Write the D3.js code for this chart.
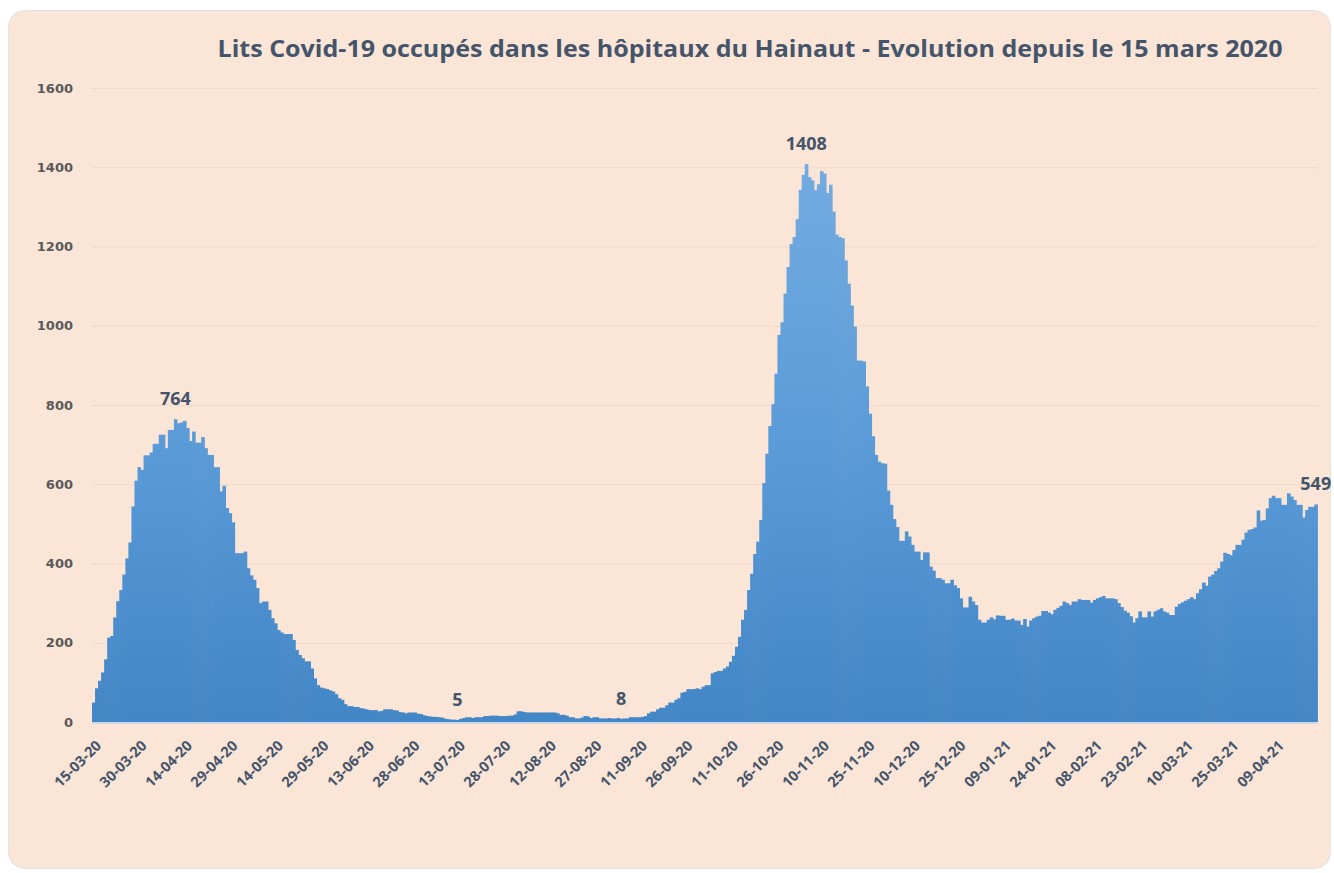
<!DOCTYPE html>
<html>
<head>
<meta charset="utf-8">
<script src="https://cdn.jsdelivr.net/npm/d3@7"></script>
<style>
  body { margin: 0; background: #ffffff; }
  #chart text { font-family: "Open Sans", sans-serif; }
</style>
</head>
<body>
<div id="chart"></div>
<script>
// lits occupés par jour, depuis le 15-03-20 (une valeur par jour)
var lits = [
  49, 85, 104, 125, 158, 213, 217, 264, 305, 333,
  372, 413, 453, 544, 609, 643, 636, 673, 673, 680,
  702, 702, 725, 725, 691, 737, 737, 764, 754, 756,
  760, 742, 709, 733, 705, 705, 719, 691, 674, 674,
  643, 643, 582, 596, 540, 527, 504, 426, 426, 426,
  430, 388, 370, 359, 338, 300, 304, 304, 283, 262,
  249, 232, 226, 222, 222, 222, 207, 182, 169, 161,
  153, 153, 135, 110, 93, 87, 85, 83, 80, 77,
  70, 60, 56, 45, 40, 40, 38, 38, 35, 34,
  32, 30, 30, 30, 27, 28, 32, 32, 32, 30,
  29, 25, 24, 22, 24, 24, 24, 21, 20, 17,
  15, 14, 13, 13, 12, 11, 8, 7, 6, 6,
  5, 8, 10, 12, 12, 10, 12, 12, 12, 15,
  15, 16, 16, 16, 15, 15, 15, 16, 16, 19,
  27, 27, 25, 24, 24, 24, 24, 24, 24, 24,
  24, 24, 24, 22, 18, 18, 16, 12, 12, 9,
  9, 11, 15, 14, 10, 12, 12, 9, 9, 9,
  10, 9, 9, 10, 8, 9, 9, 12, 12, 12,
  12, 13, 15, 22, 26, 26, 32, 36, 36, 42,
  49, 49, 56, 60, 74, 76, 83, 83, 83, 85,
  83, 89, 93, 93, 123, 126, 129, 129, 135, 140,
  152, 167, 190, 215, 258, 283, 333, 374, 424, 455,
  510, 603, 677, 747, 802, 879, 977, 1009, 1081, 1148,
  1206, 1224, 1269, 1343, 1381, 1408, 1375, 1367, 1342, 1357,
  1390, 1384, 1335, 1356, 1288, 1230, 1224, 1221, 1165, 1106,
  1051, 998, 912, 912, 910, 847, 778, 721, 674, 657,
  653, 652, 584, 548, 512, 492, 457, 457, 481, 468,
  447, 430, 430, 409, 428, 428, 392, 382, 363, 363,
  359, 350, 350, 359, 345, 338, 312, 289, 289, 316,
  304, 295, 258, 251, 251, 258, 264, 259, 269, 268,
  268, 258, 258, 261, 256, 256, 245, 260, 241, 256,
  262, 266, 268, 280, 280, 276, 272, 283, 288, 293,
  304, 300, 295, 304, 304, 310, 308, 308, 308, 301,
  308, 312, 315, 318, 312, 312, 312, 310, 300, 290,
  281, 276, 267, 251, 262, 279, 264, 264, 279, 266,
  279, 283, 287, 279, 276, 270, 270, 291, 298, 302,
  306, 310, 315, 310, 325, 335, 352, 344, 367, 372,
  381, 388, 405, 427, 424, 421, 434, 447, 447, 460,
  478, 485, 487, 491, 534, 508, 510, 539, 565, 571,
  565, 565, 548, 548, 577, 569, 560, 548, 548, 516,
  535, 543, 543, 549
];

// étiquettes de l'axe X (une tous les 15 jours)
var tickLabels = ["15-03-20","30-03-20","14-04-20","29-04-20","14-05-20","29-05-20",
  "13-06-20","28-06-20","13-07-20","28-07-20","12-08-20","27-08-20","11-09-20",
  "26-09-20","11-10-20","26-10-20","10-11-20","25-11-20","10-12-20","25-12-20",
  "09-01-21","24-01-21","08-02-21","23-02-21","10-03-21","25-03-21","09-04-21"];
var tickStep = 15;

var yTicks = [0, 200, 400, 600, 800, 1000, 1200, 1400, 1600];

// jours qui portent une étiquette de valeur
var annotes = [27, 120, 174, 235, 403];

var titre = "Lits Covid-19 occupés dans les hôpitaux du Hainaut - Evolution depuis le 15 mars 2020";

var width = 1334, height = 873;
var plot = {left: 92, right: 1317.3, top: 88, bottom: 722};

var svg = d3.select("#chart")
	.append("svg")
	.attr("width", width)
	.attr("height", height);

// gradient pour les barres
var defs = svg.append("defs");
var grad = defs.append("linearGradient")
	.attr("id", "barGrad")
	.attr("gradientUnits", "userSpaceOnUse")
	.attr("x1", 0).attr("y1", plot.top)
	.attr("x2", 0).attr("y2", plot.bottom);
grad.append("stop").attr("offset", "0%").attr("stop-color", "#7ab0e3");
grad.append("stop").attr("offset", "55%").attr("stop-color", "#5b9bd8");
grad.append("stop").attr("offset", "100%").attr("stop-color", "#4286c6");

// fond du graphique
svg.append("rect")
	.attr("x", 8.5).attr("y", 10.5)
	.attr("width", 1322).attr("height", 858)
	.attr("rx", 16)
	.attr("fill", "#fbe5d6")
	.attr("stroke", "#e3e3e3");

svg.append("text")
	.attr("x", 750)
	.attr("y", 57)
	.attr("text-anchor", "middle")
	.attr("textLength", 1065)
	.attr("lengthAdjust", "spacingAndGlyphs")
	.style("font-size", "23px")
	.style("font-weight", "700")
	.style("fill", "#44546a")
	.text(titre);

var x = d3.scaleBand()
	.domain(d3.range(lits.length))
	.range([plot.left, plot.right])
	.padding(0);

var y = d3.scaleLinear()
	.domain([0, 1600])
	.range([plot.bottom, plot.top]);

// grille + axe Y
var yAxis = svg.append("g")
	.attr("transform", "translate(" + plot.left + ",0)")
	.call(d3.axisLeft(y).tickValues(yTicks).tickFormat(d3.format("d"))
		.tickSize(-(plot.right - plot.left)).tickPadding(19));
yAxis.select(".domain").remove();
yAxis.selectAll("line")
	.attr("stroke", "#efd9cc");
yAxis.selectAll("text")
	.style("font-family", "'DejaVu Sans', sans-serif")
	.style("font-size", "13px")
	.style("font-weight", "700")
	.style("fill", "#595959");

// barres
svg.selectAll(".bar")
	.data(lits)
	.enter().append("rect")
	.attr("class", "bar")
	.attr("x", function(d, i) { return x(i); })
	.attr("y", function(d) { return y(d); })
	.attr("width", x.bandwidth() + 0.6)
	.attr("height", function(d) { return y(0) - y(d); })
	.attr("fill", "url(#barGrad)");

// ligne de base
svg.append("line")
	.attr("x1", plot.left).attr("x2", plot.right)
	.attr("y1", plot.bottom + 1).attr("y2", plot.bottom + 1)
	.attr("stroke", "#c9d8ea")
	.attr("stroke-width", 2);

// axe X : étiquettes tournées à 45°
var xTicks = d3.range(tickLabels.length).map(function(k) { return k * tickStep; });
svg.selectAll(".xlab")
	.data(xTicks)
	.enter().append("g")
	.attr("class", "xlab")
	.attr("transform", function(d) {
		return "translate(" + (x(d) + x.bandwidth() / 2 + 5) + "," + (plot.bottom + 21) + ") rotate(-45)";
	})
	.append("text")
	.attr("text-anchor", "end")
	.attr("dy", "0.35em")
	.style("font-size", "14.5px")
	.style("font-weight", "700")
	.style("fill", "#44546a")
	.text(function(d) { return tickLabels[d / tickStep]; });

// étiquettes de valeurs
svg.selectAll(".annote")
	.data(annotes)
	.enter().append("text")
	.attr("class", "annote")
	.attr("x", function(i) { return x(i) + x.bandwidth() / 2; })
	.attr("y", function(i) { return y(lits[i]) - 14; })
	.attr("text-anchor", "middle")
	.style("font-size", "18px")
	.style("font-weight", "700")
	.style("fill", "#44546a")
	.text(function(i) { return lits[i]; });
</script>
</body>
</html>
